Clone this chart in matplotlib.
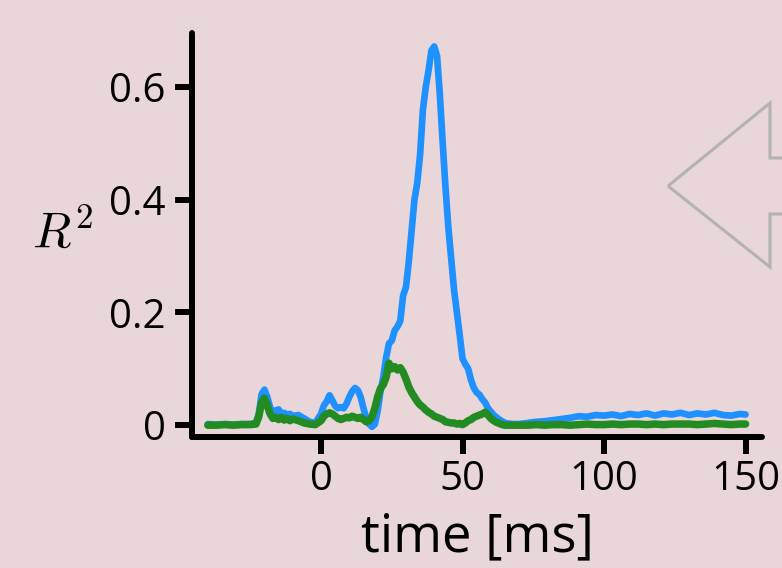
import numpy as np
import matplotlib
matplotlib.use("Agg")
import matplotlib.pyplot as plt
from matplotlib.patches import Polygon

plt.rcParams['font.family'] = ['Open Sans', 'DejaVu Sans']
plt.rcParams['mathtext.fontset'] = 'cm'

# time axis [ms]
t = np.r_[-40, -37, -34, -31, -28, -25,
          np.arange(-23, -9), -8, -6, -4, -2,
          np.arange(0, 67), 68, 70,
          np.arange(73, 149, 3), 150]

r2_blue = [0.002, 0.001, 0.002, 0.001, 0.002, 0.002,
           0.004, 0.02, 0.055, 0.063, 0.05, 0.032, 0.022, 0.026, 0.028, 0.02, 0.022, 0.018, 0.02, 0.016,
           0.018, 0.012, 0.006, 0.004,
           0.02, 0.035, 0.042, 0.053, 0.044, 0.034, 0.03, 0.032, 0.03, 0.038,
           0.05, 0.06, 0.066, 0.062, 0.05, 0.03, 0.012, 0.002, -0.003, 0.002,
           0.025, 0.06, 0.085, 0.12, 0.145, 0.15, 0.168, 0.175, 0.185, 0.23,
           0.245, 0.29, 0.345, 0.40, 0.43, 0.48, 0.56, 0.60, 0.63, 0.665,
           0.672, 0.655, 0.585, 0.50, 0.42, 0.35, 0.295, 0.24, 0.20, 0.16,
           0.118, 0.108, 0.10, 0.08, 0.066, 0.058, 0.054, 0.046, 0.04, 0.03,
           0.024, 0.018, 0.014, 0.01, 0.007, 0.004, 0.003,
           0.002, 0.002,
           0.004, 0.006, 0.007, 0.009, 0.011, 0.013, 0.016, 0.015, 0.018, 0.017,
           0.019, 0.016, 0.02, 0.018, 0.021, 0.017, 0.021, 0.019, 0.022, 0.018,
           0.021, 0.019, 0.022, 0.018, 0.017, 0.02, 0.019]

r2_green = [0.0, 0.0, 0.001, 0.0, 0.001, 0.001,
            0.002, 0.015, 0.04, 0.048, 0.035, 0.02, 0.012, 0.014, 0.01, 0.014, 0.009, 0.012, 0.008, 0.011,
            0.008, 0.004, 0.002, 0.001,
            0.008, 0.016, 0.02, 0.022, 0.02, 0.016, 0.012, 0.01, 0.012, 0.014,
            0.013, 0.016, 0.014, 0.012, 0.014, 0.01, 0.006, 0.008, 0.015, 0.03,
            0.05, 0.065, 0.072, 0.085, 0.11, 0.10, 0.104, 0.098, 0.102, 0.094,
            0.082, 0.068, 0.058, 0.05, 0.042, 0.036, 0.032, 0.027, 0.023, 0.02,
            0.016, 0.014, 0.012, 0.01, 0.006, 0.005, 0.004, 0.004, 0.002, 0.003,
            0.001, 0.004, 0.008, 0.01, 0.014, 0.016, 0.018, 0.02, 0.023, 0.018,
            0.012, 0.008, 0.005, 0.003, 0.001, 0.0, 0.0,
            0.0, 0.0,
            0.0, 0.001, 0.0, 0.001, 0.001, 0.0, 0.001, 0.002, 0.001, 0.001,
            0.002, 0.001, 0.002, 0.002, 0.001, 0.002, 0.001, 0.002, 0.002, 0.002,
            0.001, 0.002, 0.003, 0.002, 0.001, 0.002, 0.002]

bg = '#e8d6d8'
fig = plt.figure(figsize=(7.82, 5.68), dpi=100, facecolor=bg)
ax = fig.add_axes([0.2455, 0.2306, 0.9744 - 0.2455, 0.9419 - 0.2306])
ax.set_facecolor(bg)

ax.plot(t, r2_blue, color='#1e90ff', lw=4.8, solid_capstyle='round', solid_joinstyle='round')
ax.plot(t, r2_green, color='#228b22', lw=5.4, solid_capstyle='round', solid_joinstyle='round')

ax.set_xlim(-45.6, 155.8)
ax.set_ylim(-0.021, 0.696)
ax.set_xticks([0, 50, 100, 150])
ax.set_xticklabels(['0', '50', '100', '150'])
ax.set_yticks([0, 0.2, 0.4, 0.6])
ax.set_yticklabels(['0', '0.2', '0.4', '0.6'])

for side in ['top', 'right']:
    ax.spines[side].set_visible(False)
for side in ['left', 'bottom']:
    ax.spines[side].set_linewidth(4.3)
    ax.spines[side].set_capstyle('round')

ax.tick_params(axis='both', length=12, width=4.3, labelsize=29, direction='out')
ax.tick_params(axis='y', pad=7)
ax.tick_params(axis='x', pad=4)
for tl in ax.xaxis.get_ticklines() + ax.yaxis.get_ticklines():
    tl.set_solid_capstyle('round')

ax.set_xlabel('time [ms]', fontsize=38, labelpad=8)
ax.set_ylabel('$R^2$', fontsize=36, rotation=0, labelpad=33, va='center')

# outlined arrow on the right, partly outside the figure
arrow_px = [(668, 186), (770, 103), (770, 158), (900, 158),
            (900, 214), (770, 214), (770, 267)]
arrow = Polygon([(x / 782, 1 - y / 568) for x, y in arrow_px], closed=True,
                transform=fig.transFigure, facecolor='none',
                edgecolor='#b3b3b3', lw=2.2, joinstyle='miter')
fig.patches.append(arrow)

fig.savefig('out.png', dpi=100, facecolor=bg)
